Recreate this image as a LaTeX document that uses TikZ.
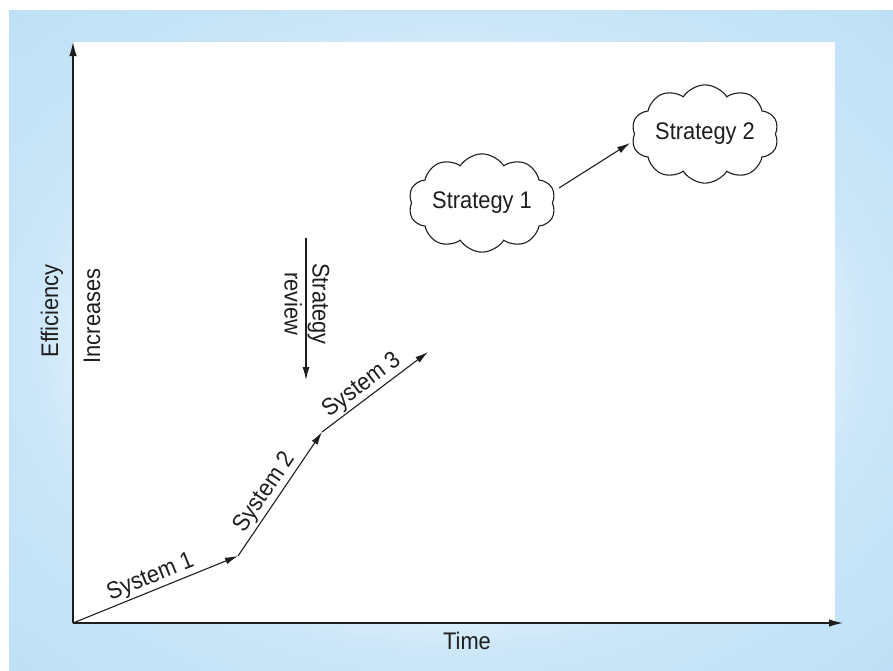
\documentclass[tikz,border=0pt]{standalone}
\usepackage{fontspec}
\setmainfont{Liberation Sans}[FakeStretch=0.91]
\usetikzlibrary{arrows.meta,shapes.symbols}
\definecolor{frA}{RGB}{238,247,253}
\definecolor{frB}{RGB}{222,239,251}
\definecolor{frC}{RGB}{202,230,248}
\definecolor{frD}{RGB}{190,224,246}
\definecolor{inkc}{RGB}{30,30,30}
\pgfdeclareradialshading{framesh}{\pgfpoint{0bp}{0bp}}{color(0bp)=(white); color(17bp)=(frA); color(20.5bp)=(frB); color(24bp)=(frC); color(35.5bp)=(frD); color(50bp)=(frD)}
\tikzset{
  lbl/.style={font=\fontsize{24}{28}\selectfont, text=inkc, inner sep=1.5pt},
  axisline/.style={draw=inkc, line width=1.3pt, -{Latex[length=14pt,width=7.5pt]}},
  arrowline/.style={draw=inkc, line width=1.1pt, -{Latex[length=13pt,width=7pt]}},
  cloudbox/.style={cloud, cloud puffs=10, cloud puff arc=115, aspect=1.8, draw=inkc, line width=1.1pt, fill=white, inner sep=0pt, minimum width=139pt, minimum height=77pt, font=\fontsize{24}{28}\selectfont, text=inkc}
}
\begin{document}
\begin{tikzpicture}[x=1pt,y=-1pt]
\useasboundingbox (0,0) rectangle (893,670);
\fill[white] (0,0) rectangle (893,670);
\shade[shading=framesh] (9,10) rectangle (893,670);
\fill[white] (73,42) rectangle (835,623);
% axes
\coordinate (O) at (73,623);
\coordinate (Ytip) at (73,42);
\coordinate (Xtip) at (843,623);
\draw[axisline] (O) -- (Ytip);
\draw[axisline] (O) -- (Xtip);
\node[lbl] (time) at (467,641) {Time};
\node[lbl, rotate=90] (eff) at (52,311) {Efficiency};
\node[lbl, rotate=90] (inc) at (92,316) {Increases};
% systems
\coordinate (P1) at (238,556);
\coordinate (P2) at (322,432);
\coordinate (P3) at (428,352);
\draw[arrowline] (O) -- node[lbl, sloped, above, pos=0.5] (s1) {System 1} (P1);
\draw[arrowline] (P1) -- node[lbl, sloped, above, pos=0.45] (s2) {System 2} (P2);
\draw[arrowline] (P2) -- node[lbl, sloped, above, pos=0.45] (s3) {System 3} (P3);
% strategy review
\coordinate (R1) at (306,238);
\coordinate (R2) at (306,380);
\draw[arrowline] (R1) -- (R2);
\node[lbl, rotate=-90, align=center] (rev) at (307,304) {Strategy\\review};
% strategies
\node[cloudbox] (st1) at (482,203) {Strategy 1};
\node[cloudbox] (st2) at (705,134) {Strategy 2};
\coordinate (A1) at (559,188);
\coordinate (A2) at (630,143);
\draw[arrowline] (A1) -- (A2);
\end{tikzpicture}
\end{document}
